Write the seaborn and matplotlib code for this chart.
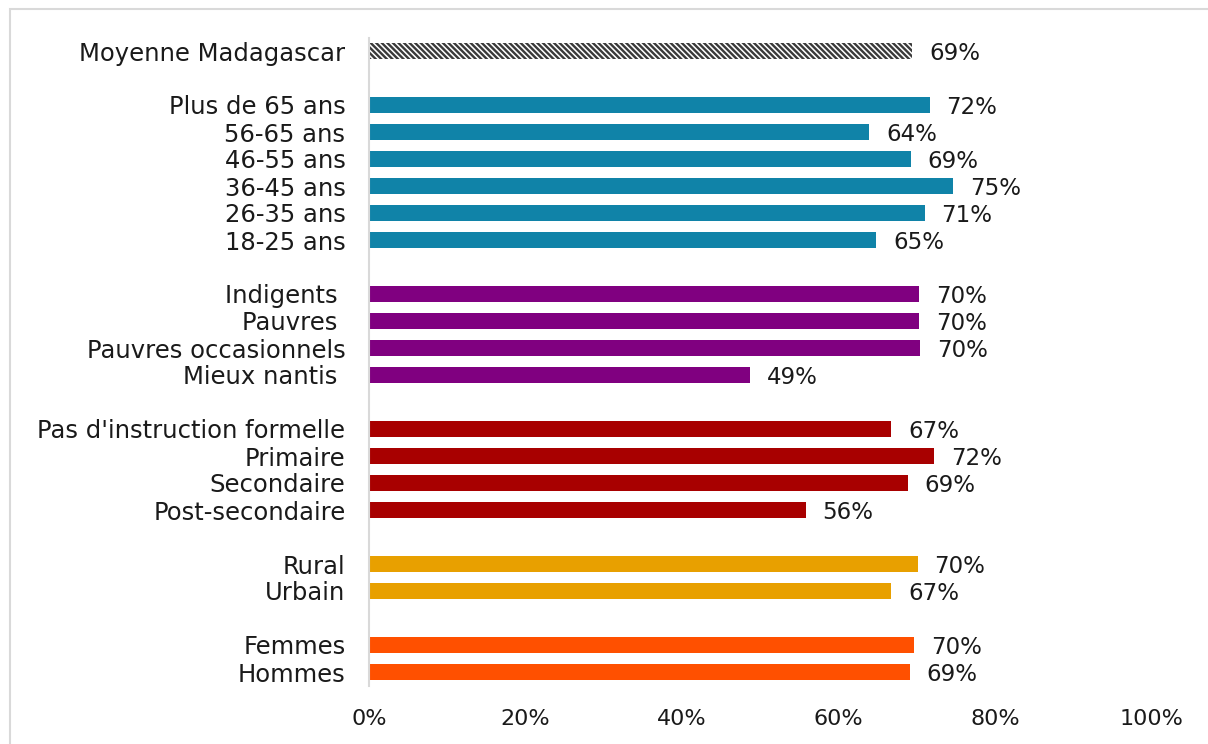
import matplotlib
matplotlib.use("Agg")
import matplotlib.pyplot as plt
import seaborn as sns
import pandas as pd
import numpy as np
from matplotlib.patches import Rectangle

# ---- data ----
cat_moyenne = ["Moyenne Madagascar"]
val_moyenne = [0.694]
cat_age = ["Plus de 65 ans", "56-65 ans", "46-55 ans", "36-45 ans", "26-35 ans", "18-25 ans"]
val_age = [0.716, 0.639, 0.692, 0.746, 0.710, 0.648]
cat_pauv = ["Indigents ", "Pauvres ", "Pauvres occasionnels", "Mieux nantis "]
val_pauv = [0.703, 0.703, 0.704, 0.487]
cat_educ = ["Pas d'instruction formelle", "Primaire", "Secondaire", "Post-secondaire"]
val_educ = [0.667, 0.722, 0.688, 0.558]
cat_milieu = ["Rural", "Urbain"]
val_milieu = [0.701, 0.667]
cat_genre = ["Femmes", "Hommes"]
val_genre = [0.696, 0.691]
xticks_vals = [0, 0.2, 0.4, 0.6, 0.8, 1.0]

groups = [
    ("moy", cat_moyenne, val_moyenne, "#FFFFFF"),
    ("age", cat_age, val_age, "#1083A8"),
    ("pauv", cat_pauv, val_pauv, "#800080"),
    ("educ", cat_educ, val_educ, "#A80000"),
    ("milieu", cat_milieu, val_milieu, "#E8A000"),
    ("genre", cat_genre, val_genre, "#FF5000"),
]

rows = []
pos = 0
for gname, cats, vals, col in groups:
    for c, v in zip(cats, vals):
        rows.append({"group": gname, "cat": c, "val": v, "pos": pos})
        pos += 1
    pos += 1  # blank row between groups
df = pd.DataFrame(rows)
palette = {g: col for g, _, _, col in groups}

sns.set_theme(style="white")
plt.rcParams["font.family"] = ["DejaVu Sans"]
plt.rcParams["hatch.linewidth"] = 1.7
plt.rcParams["hatch.color"] = "#3a3a3a"

fig = plt.figure(figsize=(12.08, 7.44), dpi=100)
ax = fig.add_axes([369/1208, 1 - 685.5/744, (1152 - 369)/1208, 648/744])

sns.barplot(data=df, x="val", y="pos", hue="group", palette=palette, orient="h",
            native_scale=True, dodge=False, width=0.6, legend=False, ax=ax,
            saturation=1, linewidth=0)

# hatch the average bar
for p in ax.patches:
    y = p.get_y() + p.get_height() / 2
    if abs(y - 0) < 0.01:
        p.set_facecolor("white")
        p.set_hatch("\\" * 6)
        p.set_edgecolor("#3a3a3a")
        p.set_linewidth(0)

ax.set_ylim(pos - 1 - 0.5, -0.5)
ax.set_xlim(0, 1)
ax.set_yticks(df["pos"])
ax.set_yticklabels(df["cat"], fontsize=17.5, color="#1a1a1a")
ax.set_xticks(xticks_vals)
ax.set_xticklabels([f"{v:.0%}" for v in xticks_vals], fontsize=16, color="#1a1a1a")
ax.tick_params(axis="y", length=0, pad=17)
ax.tick_params(axis="x", length=0, pad=17)
ax.set_xlabel("")
ax.set_ylabel("")
for s in ["top", "right", "bottom"]:
    ax.spines[s].set_visible(False)
ax.spines["left"].set_color("#D9D9D9")
ax.spines["left"].set_linewidth(1.5)

for _, r in df.iterrows():
    ax.annotate(f"{r['val']:.0%}", xy=(r["val"], r["pos"]), xytext=(12, -1.5),
                textcoords="offset points", ha="left", va="center",
                fontsize=16.5, color="#1a1a1a")

fig.add_artist(Rectangle((10/1208, -0.1), 1.2, 1 - 9/744 + 0.1, transform=fig.transFigure,
                         fill=False, edgecolor="#D9D9D9", linewidth=1.5))

fig.savefig("out.png", dpi=100)
